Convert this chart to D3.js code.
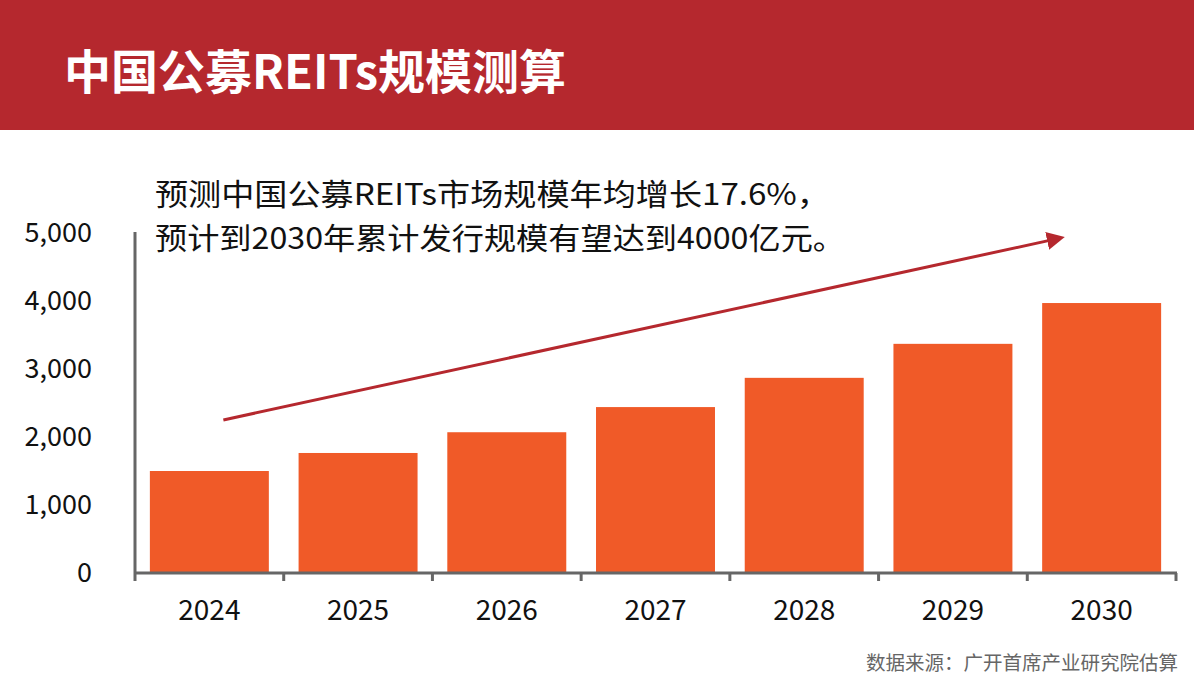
<!DOCTYPE html>
<html><head><meta charset="utf-8">
<script src="https://cdn.jsdelivr.net/npm/d3@7"></script>
<style>body{margin:0;background:#fff}svg{display:block}text{font-family:"Noto Sans CJK SC","Noto Sans",sans-serif}</style>
</head><body><svg id="c" width="1194" height="697"></svg>
<script>
const categories = ["2024","2025","2026","2027","2028","2029","2030"];
const values = [1500,1765,2070,2440,2870,3370,3970];
const yTicks = [0,1000,2000,3000,4000,5000];
const title = "中国公募REITs规模测算";
const note = ["预测中国公募REITs市场规模年均增长17.6%，","预计到2030年累计发行规模有望达到4000亿元。"];
const source = "数据来源：广开首席产业研究院估算";
const arrowFrom = {cat:"2024", frac:0.5, value:2250};
const arrowTo = {cat:"2030", frac:0.24, value:4960};

const svg = d3.select("#c");
svg.append("rect").attr("x",0).attr("y",0).attr("width",1194).attr("height",130).attr("fill","#b5282e");
svg.append("text").attr("x",64).attr("y",89).attr("fill","#fff").attr("font-size",47).attr("font-weight",700).text(title);

const x = d3.scaleBand().domain(categories).range([135,1176]).paddingInner(0.2).paddingOuter(0.1);
const y = d3.scaleLinear().domain([0,5000]).range([573,233]);

svg.selectAll("rect.bar").data(values).join("rect").attr("class","bar")
  .attr("x",(d,i)=>x(categories[i])).attr("width",x.bandwidth())
  .attr("y",d=>y(d)).attr("height",d=>y(0)-y(d)).attr("fill","#f05a28");

// y axis
svg.append("line").attr("x1",135).attr("x2",135).attr("y1",232).attr("y2",581).attr("stroke","#666").attr("stroke-width",3);
svg.selectAll("text.yt").data(yTicks).join("text").attr("class","yt")
  .attr("x",92).attr("y",d=>y(d)).attr("dy","0.35em").attr("text-anchor","end")
  .attr("font-size",27).attr("fill","#111").text(d=>d3.format(",")(d));
// x axis
svg.append("line").attr("x1",134).attr("x2",1177).attr("y1",573).attr("y2",573).attr("stroke","#666").attr("stroke-width",3);
const bounds = d3.range(1,categories.length+1).map(i=>135+ (1176-135)/categories.length*i);
svg.selectAll("line.xt").data(bounds).join("line").attr("class","xt")
  .attr("x1",d=>d).attr("x2",d=>d).attr("y1",573).attr("y2",581).attr("stroke","#666").attr("stroke-width",3);
svg.selectAll("text.xl").data(categories).join("text").attr("class","xl")
  .attr("x",d=>x(d)+x.bandwidth()/2).attr("y",610).attr("dy","0.35em").attr("text-anchor","middle")
  .attr("font-size",28).attr("fill","#111").text(d=>d);

// annotation
svg.selectAll("text.note").data(note).join("text").attr("class","note")
  .attr("x",155).attr("y",(d,i)=>205+i*44).attr("font-size",30).attr("fill","#111")
  .attr("textLength",(d,i)=>i===0?675:690).attr("lengthAdjust","spacingAndGlyphs").text(d=>d);

const defs = svg.append("defs");
defs.append("marker").attr("id","ah").attr("viewBox","0 0 10 10").attr("refX",2).attr("refY",5)
  .attr("markerWidth",6).attr("markerHeight",6).attr("orient","auto")
  .append("path").attr("d","M0,0 L10,5 L0,10 z").attr("fill","#b5282e");
const ax1 = x(arrowFrom.cat)+x.bandwidth()*arrowFrom.frac+14, ay1 = y(arrowFrom.value);
const ax2 = x(arrowTo.cat)+x.bandwidth()*arrowTo.frac, ay2 = y(arrowTo.value);
svg.append("line").attr("x1",ax1).attr("y1",ay1).attr("x2",ax2-20).attr("y2",ay2+4.4)
  .attr("stroke","#b5282e").attr("stroke-width",3).attr("marker-end","url(#ah)");

svg.append("text").attr("x",1178).attr("y",670).attr("text-anchor","end").attr("font-size",19.5).attr("fill","#666").text(source);
</script></body></html>
